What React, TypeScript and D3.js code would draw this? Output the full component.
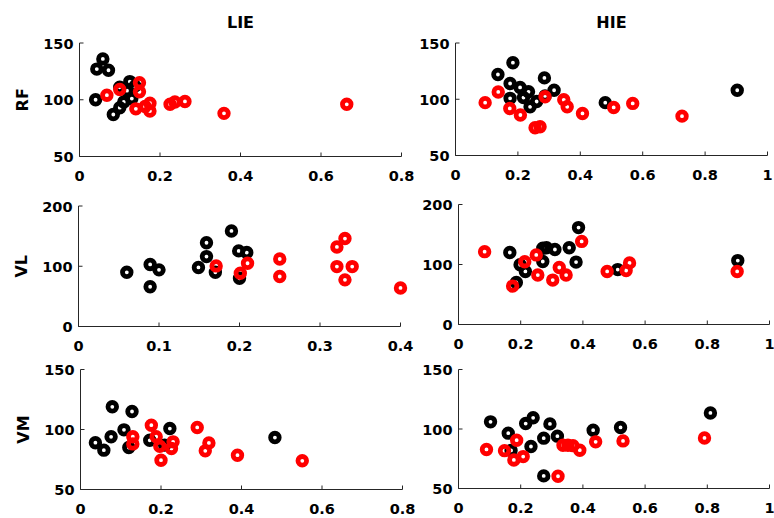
import React from "react";
import * as d3 from "d3";

// ---- data ----
const lieRfBlack = [[0.04,100],[0.043,127],[0.058,136],[0.072,126],[0.084,87],[0.1,93],[0.1,111],[0.11,98],[0.118,108],[0.125,116],[0.13,101],[0.138,112]];
const lieRfRed = [[0.068,104],[0.1,109],[0.149,115],[0.149,107],[0.14,92],[0.163,94],[0.175,97],[0.175,90],[0.225,96],[0.237,98],[0.262,98.5],[0.359,88],[0.664,96]];
const hieRfBlack = [[0.184,132.5],[0.136,122],[0.285,119],[0.175,114],[0.207,110.5],[0.234,106.6],[0.316,108],[0.175,100.8],[0.218,101.5],[0.239,93.3],[0.26,98],[0.287,103],[0.48,97],[0.903,108]];
const hieRfRed = [[0.095,97],[0.137,106.5],[0.174,91.8],[0.208,86],[0.255,74.6],[0.271,75.5],[0.287,102.2],[0.347,99.5],[0.358,93.3],[0.407,87.4],[0.507,92.7],[0.568,96.3],[0.726,85]];
const lieVlBlack = [[0.06,90],[0.089,103],[0.1,94],[0.089,66],[0.149,98],[0.159,139],[0.159,116],[0.17,90],[0.19,158.6],[0.199,125.5],[0.209,122.7],[0.2,80]];
const lieVlRed = [[0.171,100.6],[0.201,88.5],[0.21,105],[0.25,112],[0.25,83],[0.321,132],[0.331,146],[0.321,99.4],[0.34,99.4],[0.331,77.4],[0.4,64]];
const hieVlBlack = [[0.165,120],[0.198,99.6],[0.215,88.4],[0.186,70],[0.271,127],[0.283,128],[0.31,125],[0.356,128],[0.386,161.5],[0.378,104],[0.271,105],[0.512,91.5],[0.898,106.5]];
const hieVlRed = [[0.084,121.4],[0.174,64],[0.213,104.7],[0.25,116],[0.255,82.4],[0.303,74],[0.324,95],[0.346,82.4],[0.396,138.5],[0.478,88.4],[0.539,90],[0.55,102.7],[0.896,88.4]];
const lieVmBlack = [[0.037,89],[0.058,82.8],[0.076,93.9],[0.079,118.9],[0.108,99.7],[0.128,115],[0.12,85],[0.172,91],[0.222,100.8],[0.209,87],[0.483,93.3]];
const lieVmRed = [[0.13,94],[0.13,88],[0.176,103.6],[0.188,94],[0.197,86],[0.2,74.4],[0.23,89.7],[0.226,84.2],[0.29,101.7],[0.319,88.8],[0.31,82.2],[0.39,78.6],[0.551,73.9]];
const hieVmBlack = [[0.103,106],[0.16,96.5],[0.169,82],[0.216,104.6],[0.24,109.4],[0.233,85.3],[0.294,104.3],[0.274,92.3],[0.318,94],[0.433,99],[0.521,101.3],[0.81,113.5],[0.274,60.6]];
const hieVmRed = [[0.09,82.8],[0.148,81.8],[0.187,90.6],[0.178,74],[0.208,76.8],[0.32,60.3],[0.336,86.4],[0.352,86.4],[0.368,86],[0.39,82.2],[0.441,89.2],[0.529,90],[0.791,92.5]];

const xTicksLie = [0, 0.2, 0.4, 0.6, 0.8];
const xTicksLieVl = [0, 0.1, 0.2, 0.3, 0.4];
const xTicksHie = [0, 0.2, 0.4, 0.6, 0.8, 1];
const yTicksRf = [50, 100, 150];
const yTicksVl = [0, 100, 200];
const yTicksVm = [50, 100, 150];

const colTitles = ["LIE", "HIE"];
const rowLabels = ["RF", "VL", "VM"];

// ---- layout ----
const panels = [
  { black: lieRfBlack, red: lieRfRed, xt: xTicksLie, yt: yTicksRf, x0: 79.5, x1: 401.5, y0: 43, y1: 156.5, label: "RF", title: "LIE" },
  { black: hieRfBlack, red: hieRfRed, xt: xTicksHie, yt: yTicksRf, x0: 455.5, x1: 767.5, y0: 43, y1: 155.5, title: "HIE" },
  { black: lieVlBlack, red: lieVlRed, xt: xTicksLieVl, yt: yTicksVl, x0: 78.5, x1: 400.5, y0: 206, y1: 326.5, label: "VL" },
  { black: hieVlBlack, red: hieVlRed, xt: xTicksHie, yt: yTicksVl, x0: 458.5, x1: 769.5, y0: 204.5, y1: 324.5 },
  { black: lieVmBlack, red: lieVmRed, xt: xTicksLie, yt: yTicksVm, x0: 80.5, x1: 402.5, y0: 369.5, y1: 489.5, label: "VM" },
  { black: hieVmBlack, red: hieVmRed, xt: xTicksHie, yt: yTicksVm, x0: 458.5, x1: 769.5, y0: 369.5, y1: 488.5 },
];

const FONT = "'DejaVu Sans', Verdana, sans-serif";
const R = 4.3;
const SW = 4.8;

function Panel({ p }: { p: any }) {
  const x = d3.scaleLinear().domain([p.xt[0], p.xt[p.xt.length - 1]]).range([p.x0, p.x1]);
  const y = d3.scaleLinear().domain([p.yt[0], p.yt[p.yt.length - 1]]).range([p.y1, p.y0]);
  const axisColor = "#262626";
  return (
    <g>
      {p.black.map((d: number[], i: number) => (
        <circle key={"b" + i} cx={x(d[0])} cy={y(d[1])} r={R} fill="none" stroke="#000" strokeWidth={SW} />
      ))}
      {p.red.map((d: number[], i: number) => (
        <circle key={"r" + i} cx={x(d[0])} cy={y(d[1])} r={R} fill="none" stroke="#ff0000" strokeWidth={SW} />
      ))}
      <line x1={p.x0} x2={p.x0} y1={p.y0} y2={p.y1} stroke={axisColor} strokeWidth={1} />
      <line x1={p.x0} x2={p.x1} y1={p.y1} y2={p.y1} stroke={axisColor} strokeWidth={1} />
      {p.xt.map((t: number) => (
        <g key={"xt" + t}>
          <line x1={x(t)} x2={x(t)} y1={p.y1} y2={p.y1 - 4} stroke={axisColor} strokeWidth={1} />
          <text x={x(t)} y={p.y1 + 24.5} textAnchor="middle" fontFamily={FONT} fontWeight="bold" fontSize={14.5} fill="#000">{String(t)}</text>
        </g>
      ))}
      {p.yt.map((t: number) => (
        <g key={"yt" + t}>
          <line x1={p.x0} x2={p.x0 + 4} y1={y(t)} y2={y(t)} stroke={axisColor} strokeWidth={1} />
          <text x={p.x0 - 6} y={y(t) + 5.5} textAnchor="end" fontFamily={FONT} fontWeight="bold" fontSize={14.5} fill="#000">{String(t)}</text>
        </g>
      ))}
      {p.label && (
        <text transform={`translate(${p.x0 - 52},${(p.y0 + p.y1) / 2}) rotate(-90)`} textAnchor="middle" fontFamily={FONT} fontWeight="bold" fontSize={16} fill="#000">{p.label}</text>
      )}
      {p.title && (
        <text x={(p.x0 + p.x1) / 2} y={28} textAnchor="middle" fontFamily={FONT} fontWeight="bold" fontSize={16} fill="#000">{p.title}</text>
      )}
    </g>
  );
}

export default function App() {
  void colTitles; void rowLabels;
  return (
    <svg width={774} height={518} style={{ position: "absolute", left: 0, top: 0, background: "#fff" }}>
      <rect width={774} height={518} fill="#fff" />
      {panels.map((p, i) => <Panel key={i} p={p} />)}
    </svg>
  );
}
